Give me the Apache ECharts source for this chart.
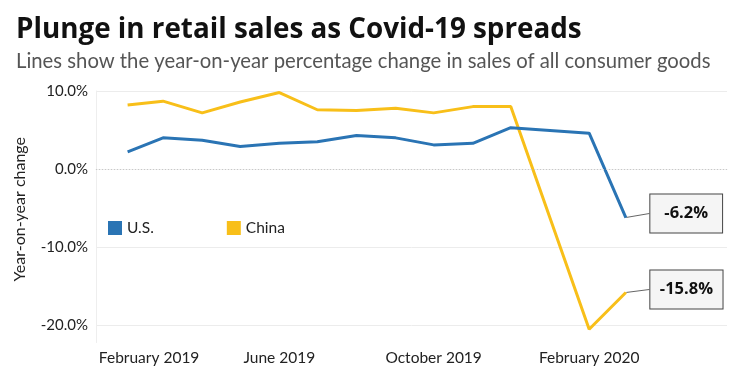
<!DOCTYPE html>
<html>
<head>
<meta charset="utf-8">
<script src="https://cdn.jsdelivr.net/npm/echarts@6/dist/echarts.min.js"></script>
<style>
html,body{margin:0;padding:0;background:#fff;}
#chart{width:738px;height:368px;}
</style>
</head>
<body>
<div id="chart"></div>
<script>
// ---- data ----
const months = ['2019-02-01','2019-03-01','2019-04-01','2019-05-01','2019-06-01','2019-07-01','2019-08-01','2019-09-01','2019-10-01','2019-11-01','2019-12-01','2020-01-01','2020-02-01','2020-03-01'];
const usValues    = [2.2, 4.0, 3.7, 2.9, 3.3, 3.5, 4.3, 4.0, 3.1, 3.3, 5.3, null, 4.6, -6.2];
const chinaValues = [8.2, 8.7, 7.2, 8.6, 9.8, 7.6, 7.5, 7.8, 7.2, 8.0, 8.0, null, -20.5, -15.8];
const xTickDates  = ['2019-02-01','2019-06-01','2019-10-01','2020-02-01'];
const xTickLabels = ['February 2019','June 2019','October 2019','February 2020'];
const yTicks      = [-20, -10, 0, 10];
const seriesNames = ['U.S.', 'China'];

const FONT = 'Lato, "Open Sans", Roboto, sans-serif';
const BOLD_FONT = '"Open Sans", Lato, Roboto, sans-serif';
const US_COLOR = '#2a74b4';
const CN_COLOR = '#f8bf19';
const DAY = 86400000;

function ts(d){ return Math.round(new Date(d + 'T00:00:00Z').getTime() / DAY); }
const tickTs = xTickDates.map(ts);

function buildData(vals, hPad){
  const last = vals.length - 1;
  return months.map((m, i) => {
    const item = { value: [ts(m), vals[i]] };
    if (i === last) {
      item.label = {
        show: true,
        padding: [10, hPad, 10, hPad],
        formatter: v => v.value[1].toFixed(1) + '%'
      };
    } else {
      item.symbol = 'none';
    }
    return item;
  });
}

const labelStyle = {
  position: 'right',
  distance: 4,
  color: '#111',
  fontFamily: BOLD_FONT,
  fontWeight: 'bold',
  fontSize: 16.5,
  lineHeight: 18,
  backgroundColor: '#f5f5f5',
  borderColor: '#444',
  borderWidth: 1
};

const chart = echarts.init(document.getElementById('chart'), null, {renderer: 'canvas'});
chart.setOption({
  animation: false,
  backgroundColor: '#fff',
  title: {
    left: 11,
    top: 8,
    text: 'Plunge in retail sales as Covid-19 spreads',
    subtext: 'Lines show the year-on-year percentage change in sales of all consumer goods',
    itemGap: 2,
    textStyle: { fontFamily: BOLD_FONT, fontSize: 27.8, lineHeight: 34, fontWeight: 'bold', color: '#111' },
    subtextStyle: { fontFamily: FONT, fontSize: 20.3, lineHeight: 24, color: '#555' }
  },
  legend: {
    left: 108,
    top: 220,
    padding: 0,
    itemWidth: 14,
    itemHeight: 14,
    itemGap: 73,
    icon: 'rect',
    textStyle: { fontFamily: FONT, fontSize: 15.5, color: '#222' },
    data: seriesNames
  },
  grid: { left: 96, right: 11, top: 91, bottom: 25.5, containLabel: false },
  xAxis: {
    type: 'value',
    min: ts('2019-01-07'),
    max: ts('2020-05-20'),
    axisLine: { show: true, lineStyle: { color: '#eeeeee' } },
    axisTick: { show: false, customValues: tickTs },
    splitLine: { show: false },
    axisLabel: {
      customValues: tickTs,
      margin: 7,
      fontFamily: FONT,
      fontSize: 15.5,
      color: '#222',
      formatter: function (v) {
        const idx = tickTs.indexOf(v);
        if (idx === 0) return '{first|' + xTickLabels[idx] + '}';
        return idx >= 0 ? xTickLabels[idx] : '';
      },
      rich: { first: { padding: [0, 0, 0, 43], fontFamily: FONT, fontSize: 15.5, color: '#222' } }
    }
  },
  yAxis: {
    type: 'value',
    min: -22.2,
    max: 10,
    axisLine: { show: true, lineStyle: { color: '#eeeeee' } },
    axisTick: { show: false, customValues: yTicks },
    splitLine: { show: true, lineStyle: { color: '#ececec', width: 1 } },
    axisLabel: {
      customValues: yTicks,
      margin: 8,
      fontFamily: FONT,
      fontSize: 15,
      color: '#222',
      formatter: v => v.toFixed(1) + '%'
    }
  },
  graphic: [{
    type: 'text',
    left: 12,
    top: 137,
    rotation: Math.PI / 2,
    style: { text: 'Year-on-year change', fontFamily: FONT, fontSize: 16, fill: '#222' }
  }],
  series: [
    {
      name: seriesNames[0],
      type: 'line',
      color: US_COLOR,
      connectNulls: true,
      symbol: 'circle',
      symbolSize: 1,
      lineStyle: { width: 3, color: US_COLOR },
      label: Object.assign({}, labelStyle),
      labelLine: { show: true, lineStyle: { color: '#666', width: 1 } },
      labelLayout: { dx: 20, dy: -4 },
      data: buildData(usValues, 14),
      markLine: {
        silent: true,
        symbol: 'none',
        label: { show: false },
        lineStyle: { color: '#c8c8c8', type: [1, 2], width: 1 },
        data: [{ yAxis: 0 }]
      },
      z: 3
    },
    {
      name: seriesNames[1],
      type: 'line',
      color: CN_COLOR,
      connectNulls: true,
      symbol: 'circle',
      symbolSize: 1,
      lineStyle: { width: 3, color: CN_COLOR },
      label: Object.assign({}, labelStyle),
      labelLine: { show: true, lineStyle: { color: '#666', width: 1 } },
      labelLayout: { dx: 20, dy: -3 },
      data: buildData(chinaValues, 9.5),
      z: 2
    }
  ]
});
</script>
</body>
</html>
